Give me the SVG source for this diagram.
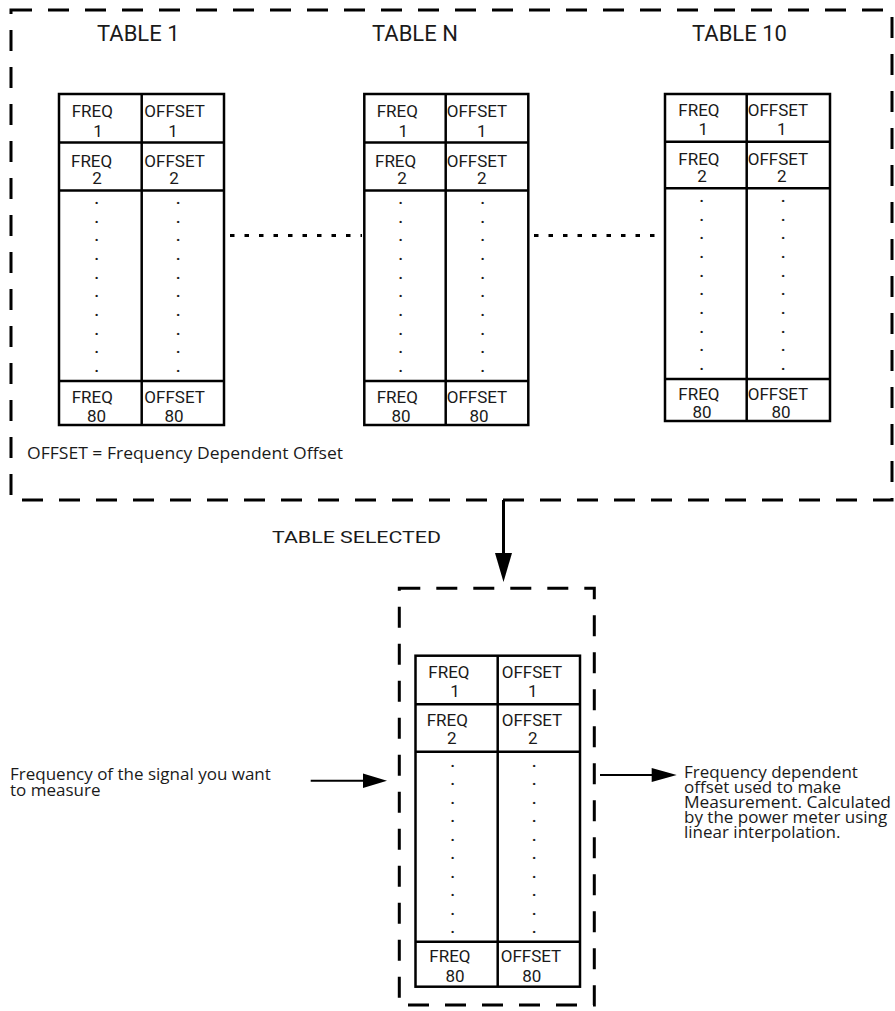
<svg xmlns="http://www.w3.org/2000/svg" width="895" height="1011" viewBox="0 0 895 1011">
<style>
.bg{fill:#fff}
.dash{fill:none;stroke:#000;stroke-width:3;stroke-dasharray:21 16}
.cell{fill:none;stroke:#000;stroke-width:2.5}
.t{font-family:Roboto,"Liberation Sans",sans-serif;font-size:17px;fill:#1a1a1a}
.m{text-anchor:middle}
.d{font-family:Roboto,"Liberation Sans",sans-serif;font-size:15px;font-weight:bold;fill:#1a1a1a;text-anchor:middle}
.title{font-family:Roboto,"Liberation Sans",sans-serif;font-size:22px;fill:#1a1a1a}
.p{font-family:"Open Sans","Liberation Sans",sans-serif;font-size:17px;fill:#1a1a1a}
.dotline{fill:none;stroke:#000;stroke-width:3;stroke-dasharray:4.5 10}
.conn{fill:none;stroke:#000;stroke-width:2}
</style>
<rect class="bg" x="0" y="0" width="895" height="1011"/>

<g id="outer-box">
<rect class="dash" x="11" y="10" width="881" height="490"/>
<text class="p" x="27" y="459" textLength="316" lengthAdjust="spacingAndGlyphs">OFFSET = Frequency Dependent Offset</text>
</g>

<g id="table-1">
<text class="title" x="97" y="41">TABLE 1</text>
<rect class="cell" x="59" y="94" width="165" height="331"/>
<line class="cell" x1="141.7" y1="94" x2="141.7" y2="425"/>
<line class="cell" x1="59" y1="142.5" x2="224" y2="142.5"/>
<line class="cell" x1="59" y1="190.5" x2="224" y2="190.5"/>
<line class="cell" x1="59" y1="381" x2="224" y2="381"/>
<text class="t" x="71.7" y="117">FREQ</text><text class="t m" x="98" y="137">1</text>
<text class="t" x="144.3" y="117">OFFSET</text><text class="t m" x="173" y="137">1</text>
<text class="t" x="71" y="166.5">FREQ</text><text class="t m" x="97" y="183.5">2</text>
<text class="t" x="144.3" y="166.5">OFFSET</text><text class="t m" x="174" y="183.5">2</text>
<g class="d">
<text x="96.7" y="204">.</text><text x="96.7" y="222.7">.</text><text x="96.7" y="241.4">.</text><text x="96.7" y="260">.</text><text x="96.7" y="278.7">.</text><text x="96.7" y="297.4">.</text><text x="96.7" y="316">.</text><text x="96.7" y="334.7">.</text><text x="96.7" y="353.4">.</text><text x="96.7" y="372">.</text>
<text x="178.3" y="204">.</text><text x="178.3" y="222.7">.</text><text x="178.3" y="241.4">.</text><text x="178.3" y="260">.</text><text x="178.3" y="278.7">.</text><text x="178.3" y="297.4">.</text><text x="178.3" y="316">.</text><text x="178.3" y="334.7">.</text><text x="178.3" y="353.4">.</text><text x="178.3" y="372">.</text>
</g>
<text class="t" x="71.7" y="403">FREQ</text><text class="t m" x="96.5" y="421.5">80</text>
<text class="t" x="144.3" y="403">OFFSET</text><text class="t m" x="174" y="421.5">80</text>
</g>

<g id="table-n">
<text class="title" x="372" y="41">TABLE N</text>
<rect class="cell" x="364.3" y="94" width="164" height="331"/>
<line class="cell" x1="445.7" y1="94" x2="445.7" y2="425"/>
<line class="cell" x1="364.3" y1="142.5" x2="528.3" y2="142.5"/>
<line class="cell" x1="364.3" y1="190.5" x2="528.3" y2="190.5"/>
<line class="cell" x1="364.3" y1="381" x2="528.3" y2="381"/>
<text class="t" x="376.7" y="117">FREQ</text><text class="t m" x="403.3" y="137">1</text>
<text class="t" x="446.7" y="117">OFFSET</text><text class="t m" x="481.7" y="137">1</text>
<text class="t" x="375" y="166.5">FREQ</text><text class="t m" x="402" y="183.5">2</text>
<text class="t" x="446.7" y="166.5">OFFSET</text><text class="t m" x="481.7" y="183.5">2</text>
<g class="d">
<text x="400.7" y="204">.</text><text x="400.7" y="222.7">.</text><text x="400.7" y="241.4">.</text><text x="400.7" y="260">.</text><text x="400.7" y="278.7">.</text><text x="400.7" y="297.4">.</text><text x="400.7" y="316">.</text><text x="400.7" y="334.7">.</text><text x="400.7" y="353.4">.</text><text x="400.7" y="372">.</text>
<text x="482.7" y="204">.</text><text x="482.7" y="222.7">.</text><text x="482.7" y="241.4">.</text><text x="482.7" y="260">.</text><text x="482.7" y="278.7">.</text><text x="482.7" y="297.4">.</text><text x="482.7" y="316">.</text><text x="482.7" y="334.7">.</text><text x="482.7" y="353.4">.</text><text x="482.7" y="372">.</text>
</g>
<text class="t" x="376.7" y="403">FREQ</text><text class="t m" x="401" y="421.5">80</text>
<text class="t" x="446.7" y="403">OFFSET</text><text class="t m" x="479" y="421.5">80</text>
</g>

<g id="table-10">
<text class="title" x="692" y="41">TABLE 10</text>
<rect class="cell" x="665" y="94" width="165" height="327"/>
<line class="cell" x1="746.7" y1="94" x2="746.7" y2="421"/>
<line class="cell" x1="665" y1="141.7" x2="830" y2="141.7"/>
<line class="cell" x1="665" y1="188.3" x2="830" y2="188.3"/>
<line class="cell" x1="665" y1="379" x2="830" y2="379"/>
<text class="t" x="678.3" y="116">FREQ</text><text class="t m" x="703.3" y="135">1</text>
<text class="t" x="747.7" y="116">OFFSET</text><text class="t m" x="781.7" y="135">1</text>
<text class="t" x="678.3" y="164.5">FREQ</text><text class="t m" x="702" y="181.5">2</text>
<text class="t" x="747.7" y="164.5">OFFSET</text><text class="t m" x="781.7" y="181.5">2</text>
<g class="d">
<text x="701.7" y="202">.</text><text x="701.7" y="220.7">.</text><text x="701.7" y="239.4">.</text><text x="701.7" y="258">.</text><text x="701.7" y="276.7">.</text><text x="701.7" y="295.4">.</text><text x="701.7" y="314">.</text><text x="701.7" y="332.7">.</text><text x="701.7" y="351.4">.</text><text x="701.7" y="370">.</text>
<text x="783.3" y="202">.</text><text x="783.3" y="220.7">.</text><text x="783.3" y="239.4">.</text><text x="783.3" y="258">.</text><text x="783.3" y="276.7">.</text><text x="783.3" y="295.4">.</text><text x="783.3" y="314">.</text><text x="783.3" y="332.7">.</text><text x="783.3" y="351.4">.</text><text x="783.3" y="370">.</text>
</g>
<text class="t" x="678.3" y="400">FREQ</text><text class="t m" x="702" y="418">80</text>
<text class="t" x="747.7" y="400">OFFSET</text><text class="t m" x="781" y="418">80</text>
</g>

<g id="selected-box">
<rect class="dash" x="399.3" y="588.3" width="195" height="416.7"/>
</g>

<g id="selected-table">
<rect class="cell" x="415.5" y="655.7" width="164.5" height="331"/>
<line class="cell" x1="497.7" y1="655.7" x2="497.7" y2="986.7"/>
<line class="cell" x1="415.5" y1="704.3" x2="580" y2="704.3"/>
<line class="cell" x1="415.5" y1="751.7" x2="580" y2="751.7"/>
<line class="cell" x1="415.5" y1="941.7" x2="580" y2="941.7"/>
<text class="t" x="428.3" y="678.3">FREQ</text><text class="t m" x="455" y="696.7">1</text>
<text class="t" x="501.7" y="678.3">OFFSET</text><text class="t m" x="532.7" y="696.7">1</text>
<text class="t" x="426.7" y="726">FREQ</text><text class="t m" x="451.7" y="744">2</text>
<text class="t" x="501.7" y="726">OFFSET</text><text class="t m" x="532.7" y="744">2</text>
<g class="d">
<text x="452.7" y="766.5">.</text><text x="452.7" y="785">.</text><text x="452.7" y="803.5">.</text><text x="452.7" y="822">.</text><text x="452.7" y="840.5">.</text><text x="452.7" y="859">.</text><text x="452.7" y="877.5">.</text><text x="452.7" y="896">.</text><text x="452.7" y="914.5">.</text><text x="452.7" y="933">.</text>
<text x="534.3" y="766.5">.</text><text x="534.3" y="785">.</text><text x="534.3" y="803.5">.</text><text x="534.3" y="822">.</text><text x="534.3" y="840.5">.</text><text x="534.3" y="859">.</text><text x="534.3" y="877.5">.</text><text x="534.3" y="896">.</text><text x="534.3" y="914.5">.</text><text x="534.3" y="933">.</text>
</g>
<text class="t" x="429.3" y="961.7">FREQ</text><text class="t m" x="455" y="981.7">80</text>
<text class="t" x="500.7" y="961.7">OFFSET</text><text class="t m" x="531.7" y="981.7">80</text>
</g>

<g id="input-label">
<text class="p"><tspan x="10" y="780">Frequency of the signal you want</tspan><tspan x="10" y="795.5">to measure</tspan></text>
</g>

<g id="output-label">
<text class="p"><tspan x="684" y="777.5">Frequency dependent</tspan><tspan x="684" y="792.5">offset used to make</tspan><tspan x="684" y="807.5" textLength="207" lengthAdjust="spacingAndGlyphs">Measurement. Calculated</tspan><tspan x="684" y="822.5">by the power meter using</tspan><tspan x="684" y="837.5">linear interpolation.</tspan></text>
</g>

<g id="selected-label">
<text class="t" x="272" y="543" textLength="169" lengthAdjust="spacingAndGlyphs">TABLE SELECTED</text>
</g>

<g id="connectors">
<line class="dotline" x1="230" y1="235.5" x2="362" y2="235.5"/>
<line class="dotline" x1="534" y1="235.5" x2="664" y2="235.5"/>
<line x1="503.5" y1="500" x2="503.5" y2="556" stroke="#000" stroke-width="3"/>
<polygon points="495,553 512,553 503.5,582" fill="#000"/>
<line class="conn" x1="310.7" y1="780.7" x2="365" y2="780.7"/>
<polygon points="363,773.5 387,780.7 363,788" fill="#000"/>
<line class="conn" x1="600" y1="775" x2="654" y2="775"/>
<polygon points="651.7,768 676.7,775 651.7,782" fill="#000"/>
</g>
</svg>
